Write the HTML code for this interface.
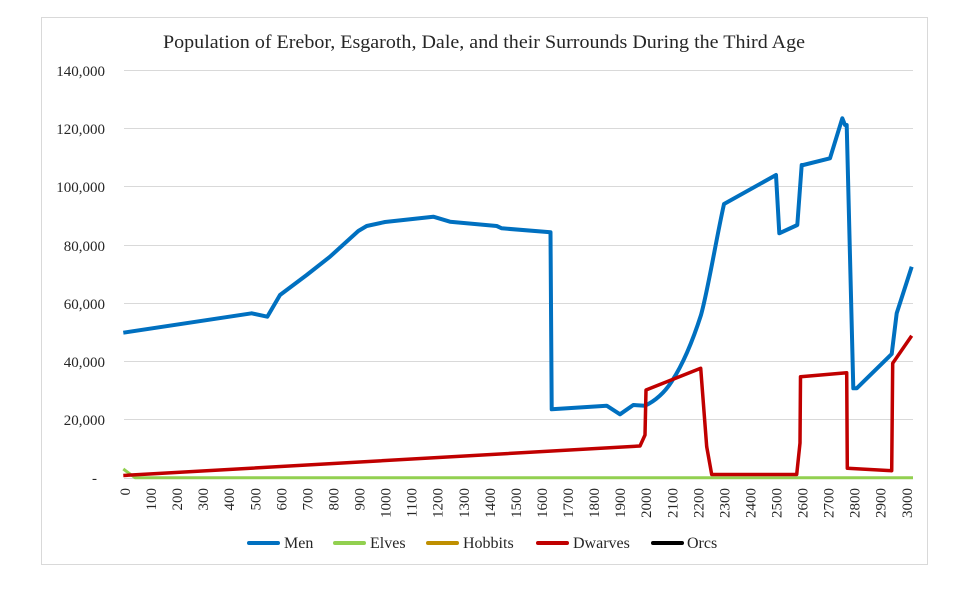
<!DOCTYPE html>
<html>
<head>
<meta charset="utf-8">
<style>
html,body{margin:0;padding:0;background:#fff;}
svg{display:block;}
text{font-family:"Liberation Serif",serif;fill:#262626;}
</style>
</head>
<body>
<svg width="960" height="591" viewBox="0 0 960 591" xmlns="http://www.w3.org/2000/svg">
<rect x="0" y="0" width="960" height="591" fill="#fff"/>
<rect x="41.5" y="17.5" width="886" height="547" fill="#fff" stroke="#d9d9d9" stroke-width="1"/>
<text x="163" y="48" font-size="19" textLength="642" lengthAdjust="spacingAndGlyphs">Population of Erebor, Esgaroth, Dale, and their Surrounds During the Third Age</text>
<g stroke="#d9d9d9" stroke-width="1">
<line x1="124" y1="70.5" x2="913" y2="70.5"/>
<line x1="124" y1="128.5" x2="913" y2="128.5"/>
<line x1="124" y1="186.5" x2="913" y2="186.5"/>
<line x1="124" y1="245.5" x2="913" y2="245.5"/>
<line x1="124" y1="303.5" x2="913" y2="303.5"/>
<line x1="124" y1="361.5" x2="913" y2="361.5"/>
<line x1="124" y1="419.5" x2="913" y2="419.5"/>
<line x1="124" y1="478.5" x2="913" y2="478.5"/>
</g>
<g font-size="15" text-anchor="end">
<text x="105" y="76">140,000</text>
<text x="105" y="134">120,000</text>
<text x="105" y="192">100,000</text>
<text x="105" y="251">80,000</text>
<text x="105" y="309">60,000</text>
<text x="105" y="367">40,000</text>
<text x="105" y="425">20,000</text>
<text x="97" y="483">-</text>
</g>
<g font-size="15" text-anchor="end">
<text transform="translate(130,488) rotate(-90)">0</text>
<text transform="translate(156.1,488) rotate(-90)">100</text>
<text transform="translate(182.1,488) rotate(-90)">200</text>
<text transform="translate(208.2,488) rotate(-90)">300</text>
<text transform="translate(234.2,488) rotate(-90)">400</text>
<text transform="translate(260.3,488) rotate(-90)">500</text>
<text transform="translate(286.4,488) rotate(-90)">600</text>
<text transform="translate(312.4,488) rotate(-90)">700</text>
<text transform="translate(338.5,488) rotate(-90)">800</text>
<text transform="translate(364.5,488) rotate(-90)">900</text>
<text transform="translate(390.6,488) rotate(-90)">1000</text>
<text transform="translate(416.7,488) rotate(-90)">1100</text>
<text transform="translate(442.7,488) rotate(-90)">1200</text>
<text transform="translate(468.8,488) rotate(-90)">1300</text>
<text transform="translate(494.8,488) rotate(-90)">1400</text>
<text transform="translate(520.9,488) rotate(-90)">1500</text>
<text transform="translate(547,488) rotate(-90)">1600</text>
<text transform="translate(573,488) rotate(-90)">1700</text>
<text transform="translate(599.1,488) rotate(-90)">1800</text>
<text transform="translate(625.1,488) rotate(-90)">1900</text>
<text transform="translate(651.2,488) rotate(-90)">2000</text>
<text transform="translate(677.3,488) rotate(-90)">2100</text>
<text transform="translate(703.3,488) rotate(-90)">2200</text>
<text transform="translate(729.4,488) rotate(-90)">2300</text>
<text transform="translate(755.4,488) rotate(-90)">2400</text>
<text transform="translate(781.5,488) rotate(-90)">2500</text>
<text transform="translate(807.6,488) rotate(-90)">2600</text>
<text transform="translate(833.6,488) rotate(-90)">2700</text>
<text transform="translate(859.7,488) rotate(-90)">2800</text>
<text transform="translate(885.7,488) rotate(-90)">2900</text>
<text transform="translate(911.8,488) rotate(-90)">3000</text>
</g>
<!-- Men -->
<path fill="none" stroke="#0070C0" stroke-width="4" stroke-linejoin="round" d="M123.3,332.7 L251.7,313.3 L267.3,316.7 L280,295 L306.7,275 L330,256.7 L358.3,231 L366.7,226 L385,222 L433.3,216.7 L450,221.7 L496.7,226 L501.7,228.3 L550.5,232.3 L551.7,409.3 L606.7,405.7 L620,414.3 L633.3,405 L645,405.7 C657,400 665,392 672,381 C683,364 693,340 701,315 C708,290 716,240 724,204 L776,175 L779.3,233.3 L797.3,225 L801.7,165 L803.3,165 L830,158.3 L842.3,118.3 L845,125 L846.7,125 L853.3,388.3 L856.7,388.3 L891.7,354 L896.7,313.3 L911.7,266.7"/>
<!-- Elves -->
<polyline fill="none" stroke="#92D050" stroke-width="3" stroke-linejoin="round" points="123.3,469 135,477.7 913,477.7"/>
<!-- Dwarves -->
<polyline fill="none" stroke="#C00000" stroke-width="3.5" stroke-linejoin="round" points="123.3,475.5 640,446 645,435 646,390 700.7,368.3 706.7,446.7 711.7,474.5 796.7,474.5 800,443 800.5,376.7 846.7,372.7 847.3,468.3 891.7,470.7 892.7,363.3 911.7,335.7"/>
<!-- Legend -->
<g stroke-width="4" stroke-linecap="round">
<line x1="249" y1="543" x2="278" y2="543" stroke="#0070C0"/>
<line x1="335" y1="543" x2="364" y2="543" stroke="#92D050"/>
<line x1="428" y1="543" x2="457" y2="543" stroke="#BF8F00"/>
<line x1="538" y1="543" x2="567" y2="543" stroke="#C00000"/>
<line x1="653" y1="543" x2="682" y2="543" stroke="#000000"/>
</g>
<g font-size="16">
<text x="284" y="548">Men</text>
<text x="370" y="548">Elves</text>
<text x="463" y="548">Hobbits</text>
<text x="573" y="548">Dwarves</text>
<text x="687" y="548">Orcs</text>
</g>
</svg>
</body>
</html>
